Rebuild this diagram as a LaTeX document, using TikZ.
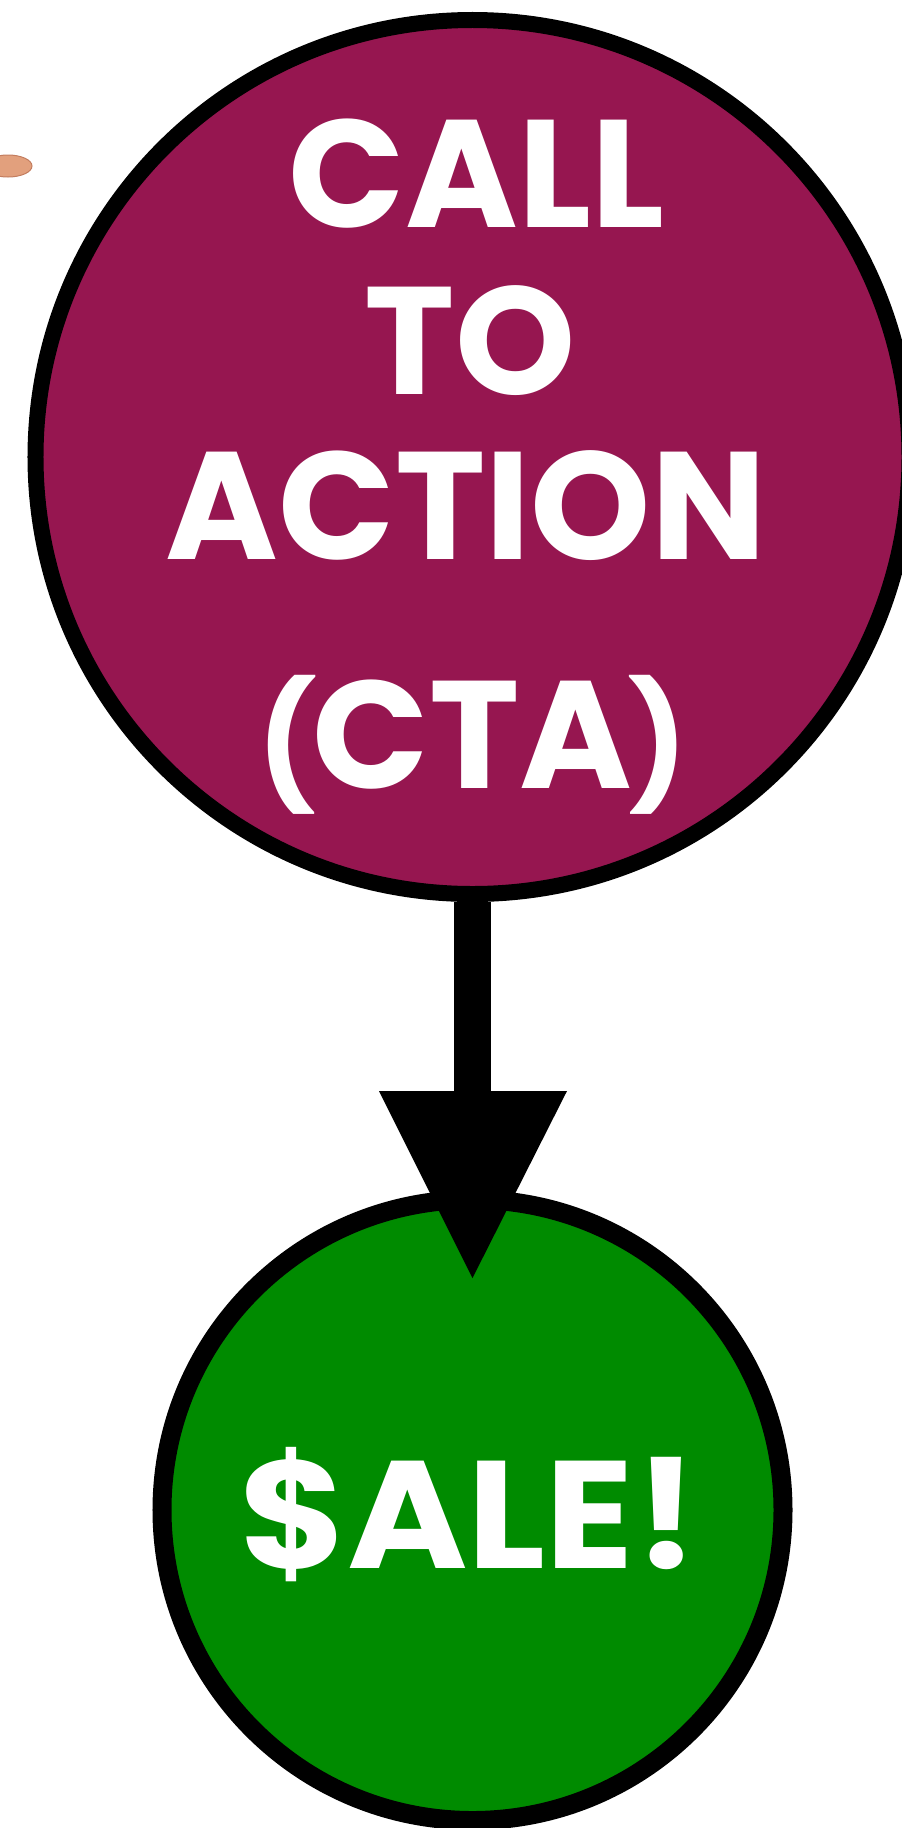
\documentclass[tikz,border=0pt]{standalone}
\usepackage{fontspec}
\setmainfont{Poppins}
\definecolor{ctapurple}{RGB}{150,22,80}
\definecolor{salegreen}{RGB}{0,139,0}
\definecolor{finger}{RGB}{226,160,125}
\definecolor{fingeredge}{RGB}{195,125,95}
\newcommand{\smallparen}[1]{{\fontsize{124bp}{124bp}\selectfont #1}}
\begin{document}
\begin{tikzpicture}[x=1bp,y=-1bp,
  ring/.style={circle,draw=black,inner sep=0pt},
  label/.style={text=white,font=\fontsize{153bp}{153bp}\selectfont\bfseries,anchor=base,inner sep=0pt}]
\useasboundingbox (0,0) rectangle (902,1828);
% finger tip
\fill[finger,draw=fingeredge,line width=1bp] (8,166) ellipse [x radius=24, y radius=11];
% circles
\node[ring,fill=ctapurple,line width=16bp,minimum size=874bp] (cta) at (472.5,457) {};
\node[ring,fill=salegreen,line width=19bp,minimum size=621bp] (sale) at (472.5,1510) {};
% arrow
\coordinate (base) at (472.5,1095);
\coordinate (baseL) at (379,1091);
\coordinate (baseR) at (567,1091);
\coordinate (tip) at (472.5,1278);
\draw[line width=37bp] (cta.south) -- (cta.south |- base);
\fill[black] (baseL) -- (baseR) -- (tip) -- cycle;
% texts
\node[label] (t1) at (476.5,227) {CALL};
\node[label] (t2) at (470,394) {TO};
\node[label] (t3) at (466,559) {ACTION};
\node[label] (t4) at (472.5,788) {\smallparen{(}\kern-4bp CTA\kern-4bp\smallparen{)}};
\node[label] (t5) at (469,1568) {\scalebox{1.07}[1]{\$ALE!}};
\end{tikzpicture}
\end{document}
